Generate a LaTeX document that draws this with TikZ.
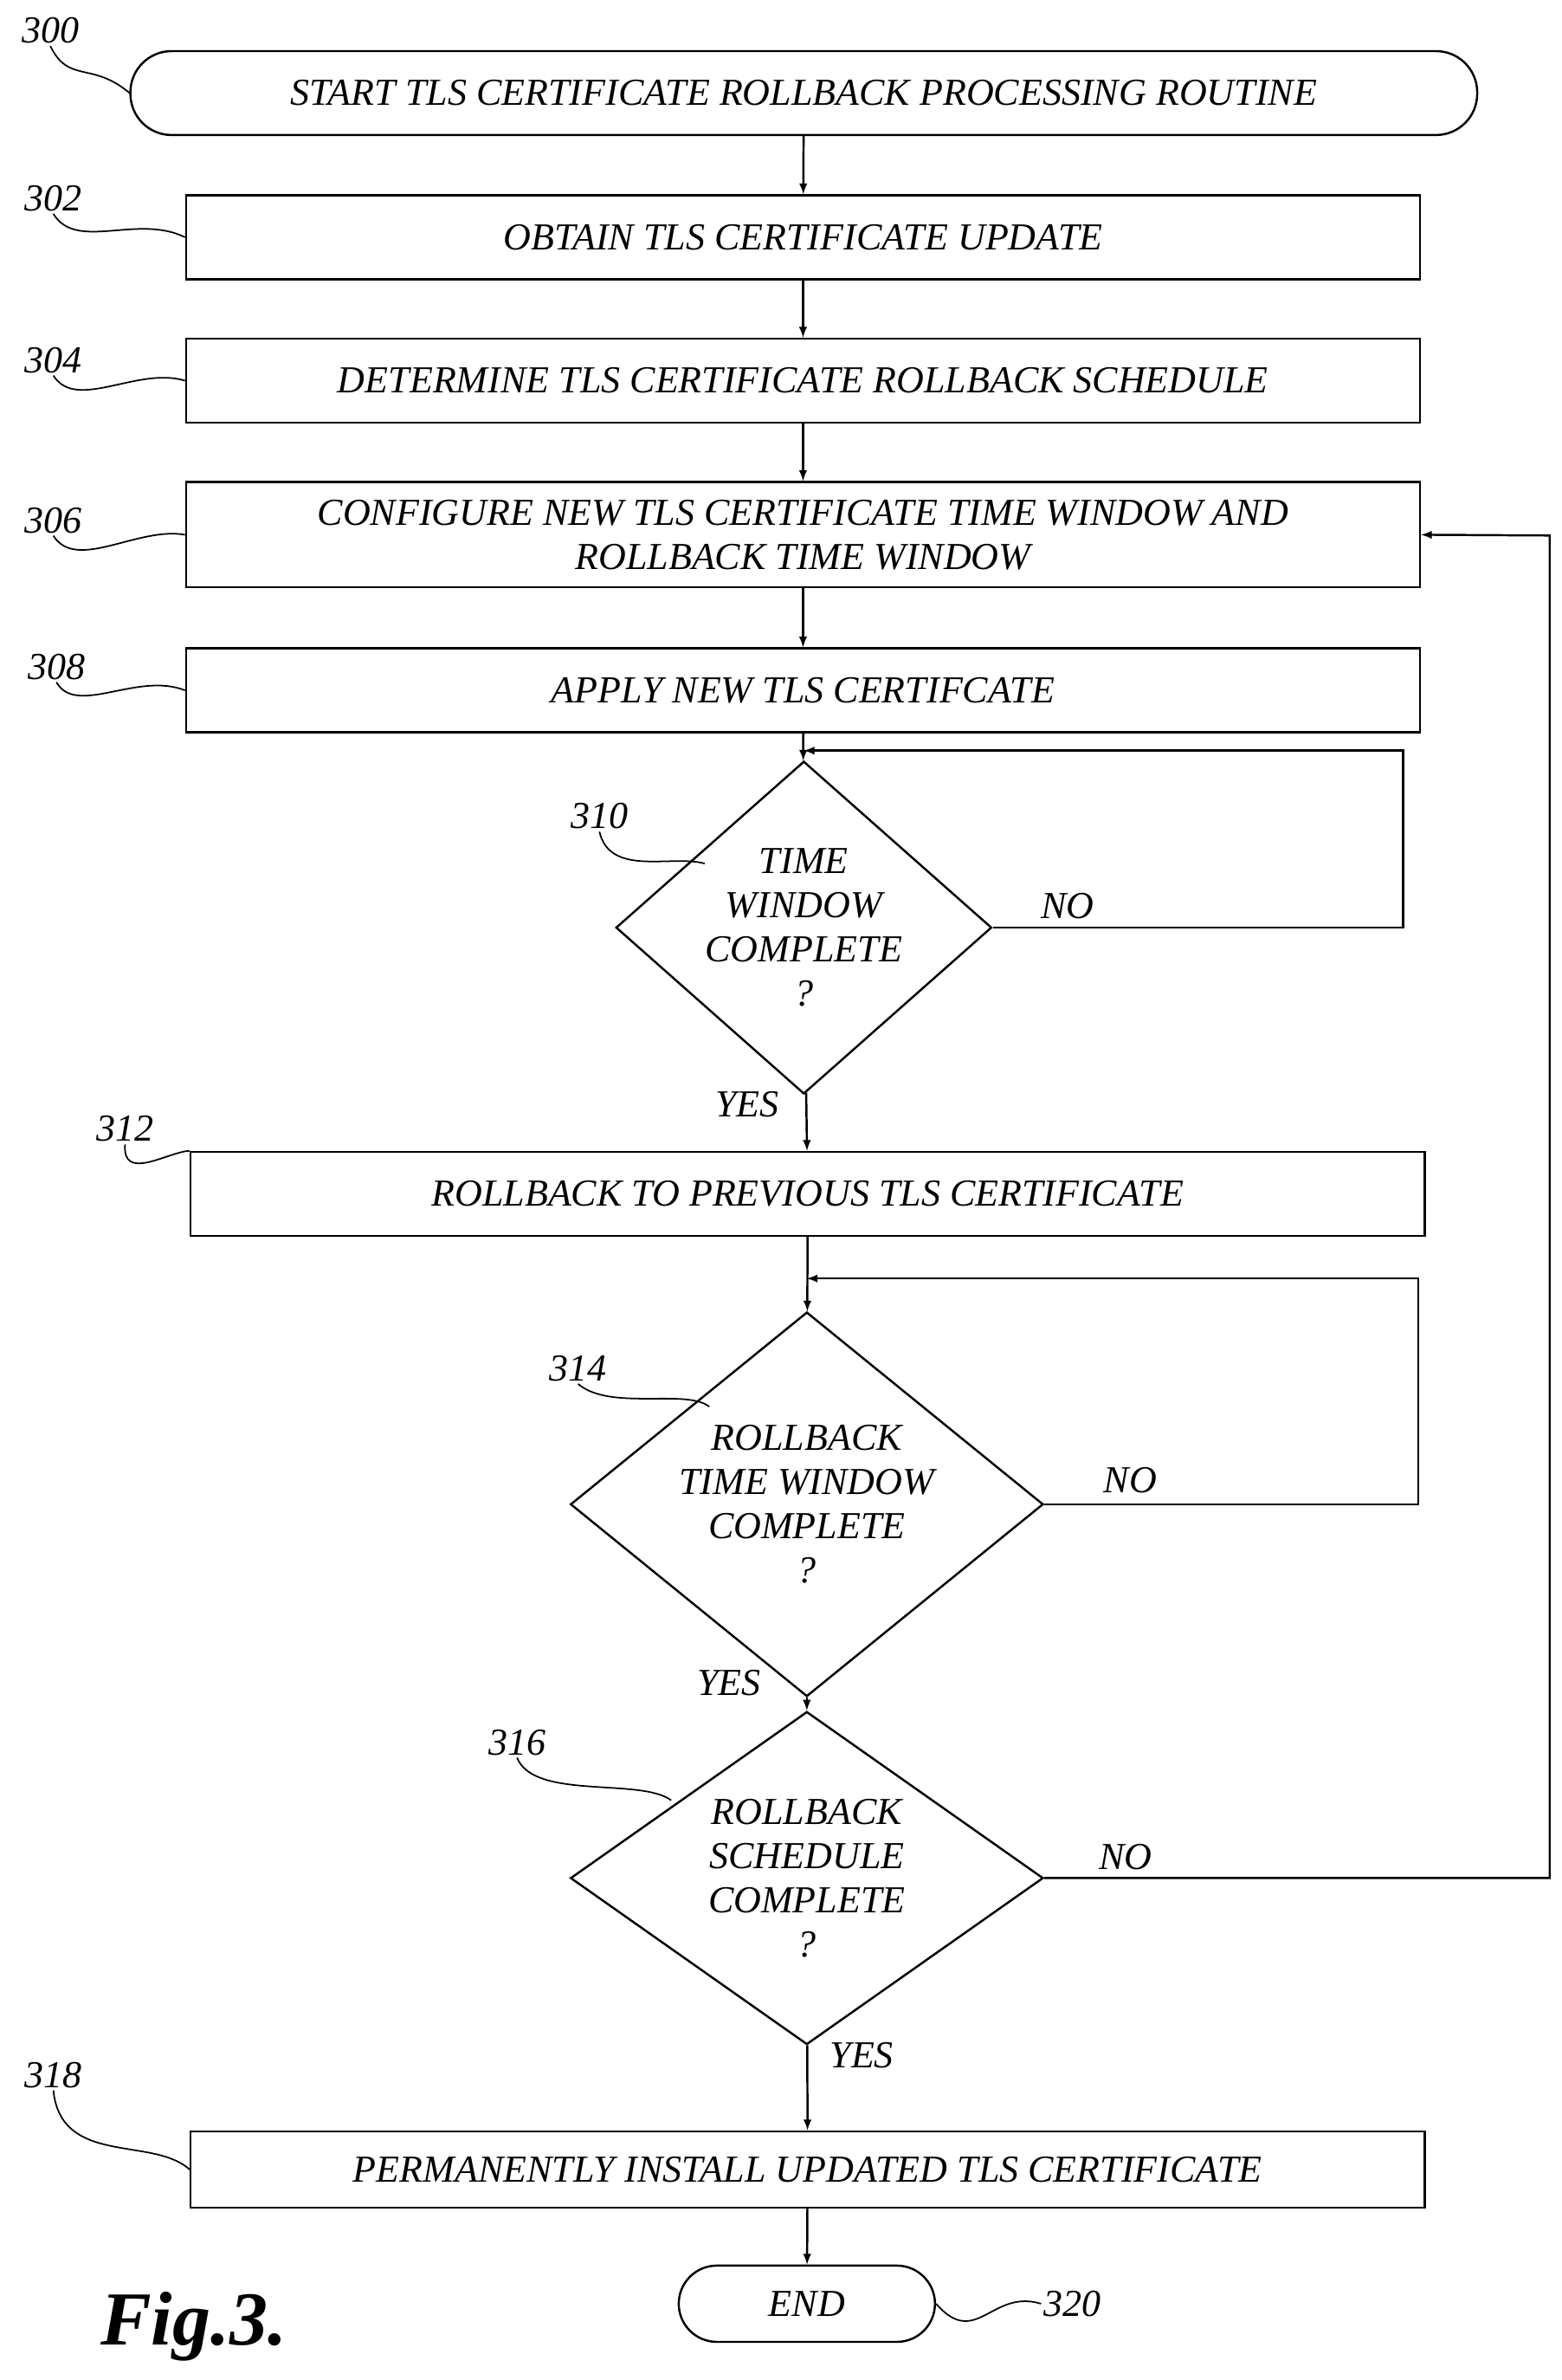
\documentclass[tikz,border=0pt]{standalone}
\usepackage{fontspec}
\setmainfont{Liberation Serif}
\usetikzlibrary{shapes.geometric,calc}
\begin{document}
\begin{tikzpicture}[x=1pt,y=-1pt,>=latex,line width=1.4pt,
  font=\fontsize{25}{29}\selectfont\itshape,
  box/.style={draw,minimum height=55pt,inner sep=2pt,align=center},
  term/.style={draw,rounded corners=27pt,minimum height=55pt},
  dec/.style={draw,diamond,aspect=1.13,inner sep=0pt,align=center},
  lab/.style={inner sep=1pt},
  sq/.style={line width=1pt}]
\useasboundingbox (0,0) rectangle (1024,1560);
% Nodes
\node[term,minimum width=883pt] (n300) at (527,61) {START TLS CERTIFICATE ROLLBACK PROCESSING ROUTINE};
\node[box,minimum width=809pt] (n302) at (526.5,155.5) {OBTAIN TLS CERTIFICATE UPDATE};
\node[box,minimum width=809pt] (n304) at (526.5,249.5) {DETERMINE TLS CERTIFICATE ROLLBACK SCHEDULE};
\node[box,minimum width=809pt,minimum height=69pt] (n306) at (526.5,350.5) {CONFIGURE NEW TLS CERTIFICATE TIME WINDOW AND\\ROLLBACK TIME WINDOW};
\node[box,minimum width=809pt] (n308) at (526.5,452.5) {APPLY NEW TLS CERTIFCATE};
\node[dec,minimum width=232pt,minimum height=174pt] (n310) at (527,608) {TIME\\WINDOW\\COMPLETE\\?};
\node[box,minimum width=809pt] (n312) at (529.5,782.5) {ROLLBACK TO PREVIOUS TLS CERTIFICATE};
\node[dec,minimum width=310pt,minimum height=205pt] (n314) at (529,986) {ROLLBACK\\TIME WINDOW\\COMPLETE\\?};
\node[dec,minimum width=310pt,minimum height=204pt] (n316) at (529,1231) {ROLLBACK\\SCHEDULE\\COMPLETE\\?};
\node[box,minimum width=809pt,minimum height=50pt] (n318) at (529.5,1422) {PERMANENTLY INSTALL UPDATED TLS CERTIFICATE};
\node[term,minimum width=168pt,minimum height=50pt,rounded corners=25pt] (n320) at (529,1510) {END};
% Reference labels
\node[lab] (l300) at (33,20) {300};
\node[lab] (l302) at (35,130) {302};
\node[lab] (l304) at (35,236) {304};
\node[lab] (l306) at (35,341) {306};
\node[lab] (l308) at (37,437) {308};
\node[lab] (l310) at (393,535) {310};
\node[lab] (l312) at (82,740) {312};
\node[lab] (l314) at (379,897) {314};
\node[lab] (l316) at (339,1142) {316};
\node[lab] (l318) at (35,1360) {318};
\node[lab] (l320) at (703,1510) {320};
\node[font=\fontsize{50}{56}\selectfont\bfseries\itshape] (fig) at (127,1525) {Fig.3.};
% Squiggles
\draw[sq] (l300.south) .. controls (45,55) and (60,40) .. (85,61);
\draw[sq] (l302.south) .. controls (50,165) and (90,140) .. (n302.west);
\draw[sq] (l304.south) .. controls (50,270) and (90,240) .. (n304.west);
\draw[sq] (l306.south) .. controls (50,375) and (90,345) .. (n306.west);
\draw[sq] (l308.south) .. controls (50,470) and (90,440) .. (n308.west);
\draw[sq] (l310.south) .. controls (400,575) and (440,560) .. (462,566);
\draw[sq] (l312.south) .. controls (80,775) and (110,755) .. (n312.north west);
\draw[sq] (l314.south) .. controls (400,925) and (450,910) .. (465,922);
\draw[sq] (l316.south) .. controls (350,1180) and (420,1165) .. (440,1180);
\draw[sq] (l318.south) .. controls (40,1420) and (100,1400) .. (n318.west);
\draw[sq] (n320.east) .. controls (640,1540) and (650,1500) .. (l320.west);
% Connectors
\draw[->] (n300) -- (n302);
\draw[->] (n302) -- (n304);
\draw[->] (n304) -- (n306);
\draw[->] (n306) -- (n308);
\draw[->] (n308) -- (n310);
\draw[->] (n310.east) -- (920,608) -- (920,492) -- (527,492);
\node at (700,594) {NO};
\draw[->] (n310) -- (n312);
\node at (490,724) {YES};
\draw[->] (n312) -- (n314);
\draw[->] (n314.east) -- (930,986) -- (930,838) -- (529,838);
\node at (741,970) {NO};
\draw[->] (n314) -- (n316);
\node at (478,1103) {YES};
\draw[->] (n316.east) -- (1016,1231) -- (1016,351) -- (n306.east);
\node at (738,1217) {NO};
\draw[->] (n316) -- (n318);
\node at (565,1347) {YES};
\draw[->] (n318) -- (n320);
\end{tikzpicture}
\end{document}
